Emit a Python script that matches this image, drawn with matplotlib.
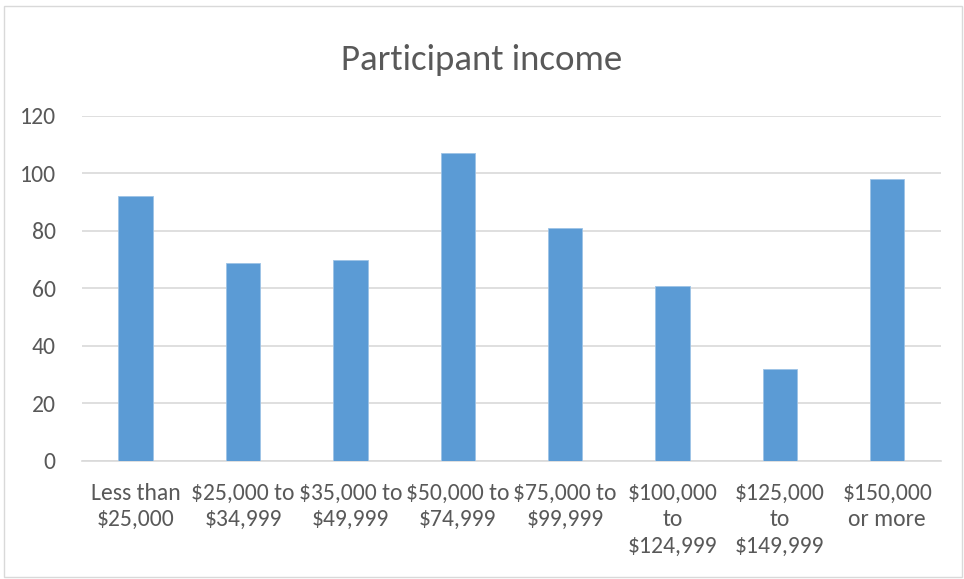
import matplotlib
matplotlib.use("Agg")
import matplotlib.pyplot as plt
from matplotlib.patches import Rectangle

plt.rcParams['font.family'] = ['Carlito', 'Lato', 'DejaVu Sans']

categories = ["Less than\n$25,000", "$25,000 to\n$34,999", "$35,000 to\n$49,999",
              "$50,000 to\n$74,999", "$75,000 to\n$99,999", "$100,000\nto\n$124,999",
              "$125,000\nto\n$149,999", "$150,000\nor more"]
values = [92, 69, 70, 107, 81, 61, 32, 98]
yticks = [0, 20, 40, 60, 80, 100, 120]

fig = plt.figure(figsize=(9.64, 5.79), dpi=100)
ax = fig.add_axes([0.085, 0.2038, 0.891, 0.5959])

x = list(range(len(categories)))
ax.bar(x, values, width=0.32, color='#5b9bd5', edgecolor='#9dc3e6', linewidth=0.6, zorder=3)
ax.set_xlim(-0.5, len(categories) - 0.5)
ax.set_ylim(0, 120)
ax.set_yticks(yticks)
ax.yaxis.grid(True, color='#d9d9d9', linewidth=1.2, zorder=0)
ax.set_axisbelow(True)
for s in ['top', 'right', 'left']:
    ax.spines[s].set_visible(False)
ax.spines['bottom'].set_color('#d9d9d9')
ax.spines['bottom'].set_linewidth(1.2)
ax.tick_params(axis='both', length=0, colors='#595959', labelsize=17)
ax.tick_params(axis='y', pad=19)
ax.tick_params(axis='x', pad=16)
ax.set_xticks(x)
ax.set_xticklabels(categories, linespacing=1.3)

fig.text(0.5, 0.897, "Participant income", ha='center', va='center', fontsize=26.5, color='#595959')

fig.patches.append(Rectangle((0.004, 0.004), 0.994, 0.986, transform=fig.transFigure,
                             fill=False, edgecolor='#d9d9d9', linewidth=1))

fig.savefig("out.png", dpi=100)
